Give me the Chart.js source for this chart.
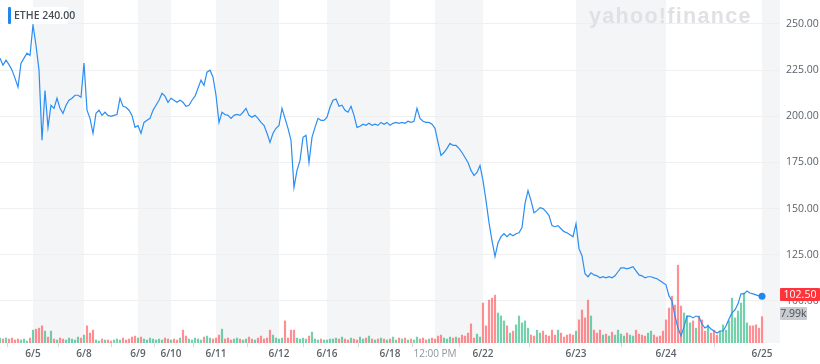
<!DOCTYPE html>
<html>
<head>
<meta charset="utf-8">
<script src="https://cdn.jsdelivr.net/npm/chart.js@4.4.0/dist/chart.umd.min.js"></script>
<style>
body{margin:0;background:#fff;font-family:"Open Sans",sans-serif;}
#wrap{position:relative;width:820px;height:364px;}
#legend{position:absolute;left:1px;top:7px;height:17px;width:67px;background:#fff;}
#legend .bar{position:absolute;left:7px;top:0px;width:3px;height:17px;background:#1e88f0;border-radius:1px;}
#legend .txt{position:absolute;left:13px;top:0px;font-size:10.5px;font-weight:600;color:#464e56;line-height:17px;white-space:nowrap;}
#mark{position:absolute;left:589px;top:4px;font-family:"Liberation Sans",sans-serif;font-weight:bold;font-size:21.5px;color:#dfe1e5;letter-spacing:1.3px;}
.badge{position:absolute;left:780px;height:13px;font-size:10.5px;line-height:13px;text-align:center;border-radius:1px;}
#price{top:288px;width:40px;background:#ff333a;color:#fff;}
#vol{top:307px;width:27px;background:#c8cbcf;color:#464e56;}
</style>
</head>
<body>
<div id="wrap">
<canvas id="chart" width="820" height="364"></canvas>
<div id="mark">yahoo!finance</div>
<div id="legend"><div class="bar"></div><div class="txt">ETHE 240.00</div></div>
<div id="price" class="badge">102.50</div>
<div id="vol" class="badge">7.99k</div>
</div>
<script>
// session start positions (index into the series) and their labels
const sessionStarts = [11, 28, 46, 57, 72, 93, 109, 130, 145, 161, 192, 222, 254];
const sessionLabels = ["6/5","6/8","6/9","6/10","6/11","6/12","6/16","6/18","12:00 PM","6/22","6/23","6/24","6/25"];
const priceTicks = [100, 125, 150, 175, 200, 225, 250];

const prices = [
231.5,227.7,230.4,228,225,220.7,215.8,228.8,231.5,234.2,233,
249.5,238.5,225,187,214,194,206,204.3,209.8,204.3,
201.6,206,208.7,209.8,211.4,211.4,210.3,228.8,203.3,198.9,
190.8,201.6,203.3,200.5,202.2,200.5,200,200.5,201,209.8,
205.4,204.9,203.3,200.5,194,195,190.8,196.7,197.8,198.9,
203.3,206,208.7,212.5,210.9,207.6,209.8,208.7,207.6,208.7,
207.6,205.4,206,208.7,210.9,215.2,219.6,216.8,223.9,225,
221.2,211.4,196.7,202.2,201,200.5,198.9,200.5,201,200.5,
202.2,204.3,200.5,199.5,200.5,198.9,196.7,195.1,190.8,185.9,
190.8,193.5,195.1,204.3,198.9,193.5,187,161.5,170.7,176.1,
188.6,189.7,175,188.6,194,198.9,197.8,197.8,199.5,204.9,
208.7,209.3,205.4,206,203.3,202.2,205.4,200.5,194,194.6,
195.7,195.1,196.2,195.1,195.7,195.1,196.7,195.7,196.7,195.1,
196.2,196.7,196.2,196.7,196.2,197.3,196.7,197.3,204.3,198.9,
197.3,196.7,196.7,195.7,193.5,185.9,178.8,180.4,182.6,185.3,
184.2,184.2,182.6,180.4,177.7,175,170.7,167.9,169.6,173.4,
165.2,154.3,142.4,132.6,124,131.5,134.8,136.4,134.8,136.4,
135.3,136.4,136.9,139.7,152.7,159.8,154.3,147.8,148.9,150.5,
150,148.4,146.2,140.8,140.2,140.8,139.1,137.5,136.9,135.9,
134.8,141.8,128.3,124.5,114.7,113.1,115.2,114.1,113.6,112.5,
113.1,112.5,113.1,112.5,113.6,115.8,117.9,117.9,117.4,117.9,
118.5,116.3,114.1,113.6,112.5,113.1,113.1,112.5,112,110.9,
109.8,108.7,102.7,100,91.8,85.3,81,85.9,91.8,91.8,
90.8,91.8,91.3,87.5,85.3,86.4,84.8,83.7,82.6,83.7,
83.7,86.4,90.2,93.5,95.1,98.4,103.8,103.8,105.4,104.3,
103.8,103.3,102.7,102.5
];

// volume in thousands
const volumes = [
1.5,1.2,1.5,1.2,1.5,0.9,1.2,0.9,1.2,0.6,1.5,
3.9,4.2,4.5,5.2,3.6,1.8,3.6,
1.2,0.9,1.5,1.2,0.9,1.5,1.2,0.9,1.8,1.5,
2.4,5.2,3.0,3.9,
0.9,0.6,1.2,0.9,0.9,0.6,0.9,1.2,0.9,1.5,0.9,1.2,1.8,
2.1,1.5,1.8,1.2,0.9,1.5,1.2,0.9,1.2,0.9,1.5,1.2,
0.9,1.2,0.9,1.5,3.9,2.1,1.2,0.9,1.5,1.2,0.9,1.8,2.1,1.5,1.2,
1.5,2.4,4.2,1.2,1.5,0.9,1.2,1.5,1.2,0.9,1.2,1.8,1.2,0.9,1.5,2.1,1.2,1.5,3.9,2.4,1.5,
1.2,1.5,6.7,1.5,3.9,3.9,1.5,1.2,1.5,1.2,2.1,3.3,1.2,0.9,1.2,0.9,
0.9,1.2,1.2,1.5,1.2,1.8,1.2,0.9,1.5,1.2,0.9,1.8,1.2,1.5,2.1,1.2,0.9,1.2,1.5,1.2,0.9,
1.2,1.8,0.9,1.5,1.2,1.5,0.9,1.2,0.9,1.8,1.2,1.5,0.9,1.2,1.5,
1.2,2.1,2.4,1.5,1.2,1.8,1.5,1.8,1.5,2.4,2.1,3.0,5.8,1.5,2.7,1.8,
12.1,5.2,13.0,13.6,14.5,9.1,8.2,6.7,5.2,3.0,3.6,5.5,8.2,6.1,6.7,4.5,2.4,2.1,3.9,3.0,3.6,2.4,2.1,3.9,2.4,3.9,3.0,1.8,2.4,2.7,2.4,
3.6,7.0,10.0,7.6,13.0,8.2,3.9,3.0,3.9,2.4,2.7,2.1,3.3,2.4,3.9,2.7,2.1,3.0,2.4,2.1,3.9,2.7,2.4,2.1,3.0,3.6,2.4,1.8,2.1,3.6,
7.0,10.6,14.2,11.5,23.6,11.2,9.1,8.2,6.1,6.7,4.5,8.2,7.0,3.6,5.5,3.0,3.9,2.4,3.6,5.5,3.9,6.7,13.6,7.6,9.7,12.1,15.2,6.1,5.2,5.2,5.5,4.5,7.99
];

const upColor = "rgba(0,172,104,0.55)";
const downColor = "rgba(255,51,58,0.55)";
const volColors = prices.map((p,i)=> i>0 && p<prices[i-1] ? downColor : upColor);

// alternate shaded sessions
const bandsPlugin = {
id:"bands",
beforeDraw(chart){
const {ctx, chartArea, scales:{x}} = chart;
const edges = [x.min, ...sessionStarts, x.max];
ctx.save();
ctx.fillStyle = "#f4f5f6";
for(let k=1;k<edges.length-1;k+=2){
const a = x.getPixelForValue(edges[k]);
const b = x.getPixelForValue(edges[k+1]);
ctx.fillRect(a, chartArea.top, b-a, chartArea.bottom-chartArea.top);
}
ctx.restore();
}
};

new Chart(document.getElementById("chart"),{
type:"line",
data:{
datasets:[{
label:"ETHE",
data:prices.map((p,i)=>({x:i,y:p})),
borderColor:"#2b8ef2",
borderWidth:1.2,
tension:0,
pointRadius:c=> c.dataIndex===prices.length-1 ? 3.5 : 0,
pointBackgroundColor:"#1e88f0",
pointBorderWidth:0,
yAxisID:"y",
order:0
},{
type:"bar",
label:"Volume",
data:volumes.map((v,i)=>({x:i,y:v})),
backgroundColor:volColors,
barThickness:1.5,
yAxisID:"vol",
order:1
}]
},
options:{
responsive:false,
animation:false,
devicePixelRatio:1,
layout:{padding:0, autoPadding:false},
plugins:{legend:{display:false},tooltip:{enabled:false}},
scales:{
x:{
type:"linear",
min:0,
max:260,
offset:false,
grid:{drawOnChartArea:false, drawTicks:true, tickLength:4, color:"#d6d9dc"},
border:{display:false},
afterBuildTicks:s=>{ s.ticks = sessionStarts.map(v=>({value:v})); },
afterFit:s=>{ s.height = 21; s.paddingLeft = 0; s.paddingRight = 0; },
ticks:{
autoSkip:false,
maxRotation:0,
padding:1,
callback:(v)=> sessionLabels[sessionStarts.indexOf(v)],
color:c=> sessionLabels[c.index]==="12:00 PM" ? "#8f969d" : "#5b636a",
font:c=> sessionLabels[c.index]==="12:00 PM"
? {family:"Open Sans", size:10, weight:"normal"}
: {family:"Open Sans", size:10, weight:"600"}
}
},
y:{
position:"right",
min:77.2,
max:263,
grid:{color:"#efefef", drawTicks:false},
border:{display:false},
afterBuildTicks:s=>{ s.ticks = priceTicks.map(v=>({value:v})); },
afterFit:s=>{ s.width = 40; s.paddingTop = 0; s.paddingBottom = 0; },
ticks:{
padding:6,
color:"#5b636a",
font:{family:"Open Sans", size:10.5},
callback:v=> v.toFixed(2)
}
},
vol:{
display:false,
min:0,
max:104
}
}
},
plugins:[bandsPlugin]
});
</script>
</body>
</html>
